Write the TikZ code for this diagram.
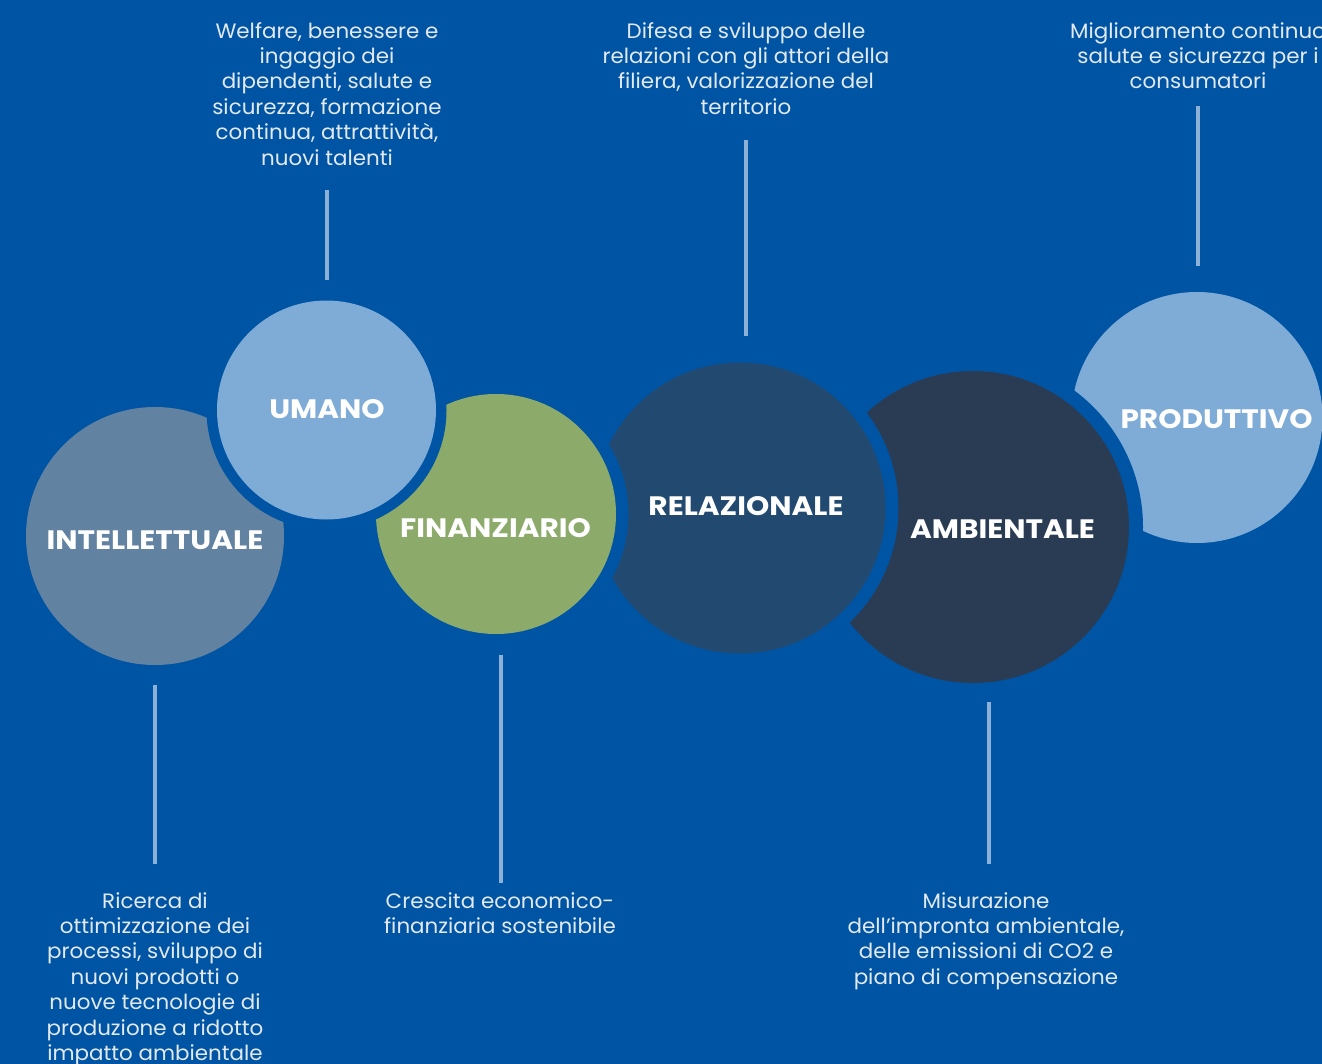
\documentclass[tikz,border=0pt]{standalone}
\usepackage{fontspec}
\setmainfont{Poppins}
\newfontfamily\lblfont[FakeStretch=1.11]{Poppins}
\newfontfamily\descfont[FakeStretch=1.03]{Poppins}
\definecolor{bg}{RGB}{0,84,164}
\definecolor{cIntel}{RGB}{98,130,162}
\definecolor{cLight}{RGB}{127,172,214}
\definecolor{cFin}{RGB}{140,170,106}
\definecolor{cRel}{RGB}{34,74,112}
\definecolor{cAmb}{RGB}{42,60,84}
\definecolor{cTxt}{RGB}{226,233,242}
\definecolor{cLine}{RGB}{140,176,214}
\begin{document}
\begin{tikzpicture}[x=0.75pt,y=-0.75pt,
  desc/.style={align=center,text=cTxt,inner sep=0pt,anchor=base,
    font=\descfont\fontsize{15.6}{19.05}\selectfont},
  lbl/.style={text=white,inner sep=0pt,anchor=base,
    font=\lblfont\fontsize{20}{24}\selectfont\bfseries},
  stem/.style={draw=cLine,line width=2.4pt}]
\clip (0,0) rectangle (1322,1064);
\fill[bg] (0,0) rectangle (1322,1064);
% centres
\coordinate (pI) at (155,536);
\coordinate (pU) at (326.5,410);
\coordinate (pF) at (496,514);
\coordinate (pR) at (740,508);
\coordinate (pA) at (973,527);
\coordinate (pP) at (1197,417.5);
% circles (bottom to top)
\fill[cLight] (pP) circle (125.5);
\fill[bg] (pA) circle (170);
\fill[cAmb] (pA) circle (156);
\fill[bg] (pR) circle (158.5);
\fill[cRel] (pR) circle (145.5);
\fill[bg] (pF) circle (132.5);
\fill[cFin] (pF) circle (120);
\fill[cIntel] (pI) circle (129);
\fill[bg] (pU) circle (120);
\fill[cLight] (pU) circle (109.5);
% labels
\node[lbl] (lI) at (155,549) {INTELLETTUALE};
\node[lbl] (lU) at (327,418) {UMANO};
\node[lbl] (lF) at (495.5,537) {FINANZIARIO};
\node[lbl] (lR) at (746,515) {RELAZIONALE};
\node[lbl] (lA) at (1002.5,538) {AMBIENTALE};
\node[lbl] (lP) at (1216.5,428) {PRODUTTIVO};
% descriptions (anchored at baseline of last line)
\node[desc] (dU) at (327,165) {Welfare, benessere e\\ingaggio dei\\dipendenti, salute e\\sicurezza, formazione\\continua, attrattività,\\nuovi talenti};
\node[desc] (dR) at (746,114.2) {Difesa e sviluppo delle\\relazioni con gli attori della\\filiera, valorizzazione del\\territorio};
\node[desc] (dP) at (1198,88.8) {Miglioramento continuo\\salute e sicurezza per i\\consumatori};
\node[desc] (dI) at (155,1060.4) {Ricerca di\\ottimizzazione dei\\processi, sviluppo di\\nuovi prodotti o\\nuove tecnologie di\\produzione a ridotto\\impatto ambientale};
\node[desc] (dF) at (500,933.4) {Crescita economico-\\finanziaria sostenibile};
\node[desc] (dA) at (986,984.2) {Misurazione\\dell’impronta ambientale,\\delle emissioni di CO2 e\\piano di compensazione};
% stems
\coordinate (sU1) at (327,190); \coordinate (sU2) at (327,280);
\coordinate (sR1) at (746,140); \coordinate (sR2) at (746,336);
\coordinate (sP1) at (1198,106); \coordinate (sP2) at (1198,266);
\coordinate (sI1) at (155,685); \coordinate (sI2) at (155,864);
\coordinate (sF1) at (501,655); \coordinate (sF2) at (501,883);
\coordinate (sA1) at (989,702); \coordinate (sA2) at (989,864);
\draw[stem] (sU1) -- (sU2);
\draw[stem] (sR1) -- (sR2);
\draw[stem] (sP1) -- (sP2);
\draw[stem] (sI1) -- (sI2);
\draw[stem] (sF1) -- (sF2);
\draw[stem] (sA1) -- (sA2);
\end{tikzpicture}
\end{document}
